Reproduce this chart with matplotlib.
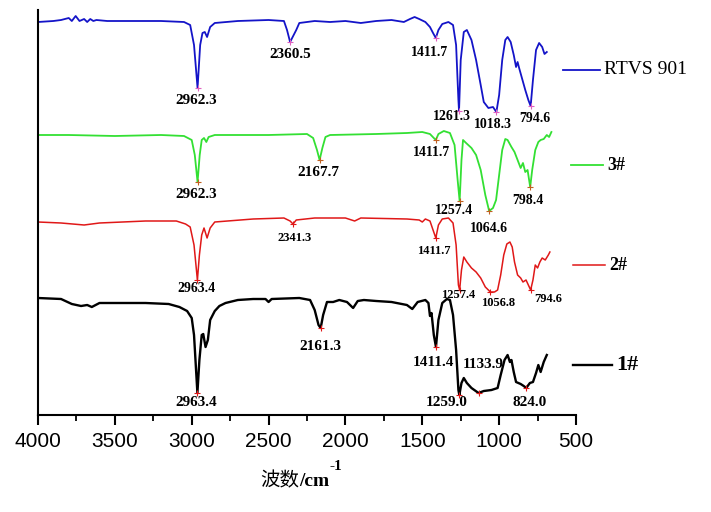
import matplotlib
matplotlib.use('Agg')
import matplotlib.pyplot as plt
from matplotlib.lines import Line2D

# 红外光谱 (纵坐标为各曲线的相对高度, 已按堆叠偏移读取)
w_rtvs = [4000, 3900, 3850, 3800, 3780, 3755, 3730, 3700, 3680, 3660, 3640, 3620, 3550, 3200, 3050,
          3010, 2985, 2962, 2945, 2930, 2915, 2900, 2880, 2850, 2700, 2500, 2400, 2380, 2360, 2340,
          2320, 2300, 2200, 2100, 2000, 1900, 1800, 1700, 1620, 1580, 1550, 1520, 1480, 1450, 1430,
          1412, 1395, 1370, 1330, 1300, 1280, 1265, 1261, 1250, 1230, 1210, 1180, 1150, 1120, 1100,
          1070, 1040, 1018, 1000, 980, 960, 945, 925, 905, 890, 880, 870, 830, 810, 795, 780, 760,
          740, 720, 705, 690]
y_rtvs = [393, 394, 395, 397, 394, 399, 394, 396, 393, 396, 394, 395, 394, 394, 393,
          390, 370, 327, 370, 382, 383, 378, 388, 392, 394, 395, 394, 385, 373, 379,
          385, 392, 394, 393, 394, 392, 394, 395, 393, 396, 398, 396, 393, 388, 382,
          377, 385, 391, 393, 390, 370, 315, 304, 355, 383, 385, 375, 355, 330, 313,
          307, 308, 303, 320, 355, 375, 378, 373, 360, 348, 353, 347, 325, 315, 309, 335, 365,
          372, 368, 361, 363]

w_3 = [4000, 3800, 3500, 3200, 3050, 3000, 2980, 2962, 2948, 2935, 2920, 2905, 2890, 2850, 2500,
       2250, 2210, 2185, 2168, 2150, 2130, 2100, 1800, 1600, 1500, 1450, 1425, 1412, 1395, 1360,
       1320, 1290, 1270, 1257, 1245, 1235, 1215, 1180, 1150, 1120, 1090, 1065, 1040, 1020, 1000,
       980, 960, 945, 920, 900, 880, 860, 845, 830, 815, 798, 785, 765, 745, 730, 710, 690, 675, 660]
y_3 = [280, 280, 279, 280, 279, 275, 260, 233, 260, 275, 277, 273, 278, 280, 280,
       281, 277, 265, 255, 267, 278, 280, 281, 282, 283, 281, 277, 275, 281, 284,
       282, 270, 235, 214, 255, 275, 272, 267, 260, 245, 220, 204, 207, 215, 240,
       265, 276, 275, 268, 263, 255, 247, 252, 243, 245, 228, 245, 265, 273, 275, 276, 280, 278, 283]

w_2 = [4000, 3850, 3700, 3600, 3300, 3100, 3040, 3010, 2985, 2963, 2950, 2935, 2920, 2900, 2880,
       2850, 2600, 2400, 2360, 2341, 2320, 2200, 2000, 1940, 1900, 1600, 1520, 1500, 1480, 1450,
       1430, 1412, 1395, 1370, 1330, 1300, 1280, 1265, 1257, 1245, 1230, 1210, 1180, 1150, 1120,
       1090, 1057, 1030, 1010, 990, 970, 950, 930, 915, 900, 880, 860, 845, 825, 810, 795, 780,
       765, 750, 735, 720, 700, 680, 670]
y_2 = [193, 192, 190, 192, 194, 194, 191, 188, 170, 135, 160, 180, 187, 177, 187,
       193, 196, 197, 194, 191, 195, 197, 197, 194, 197, 196, 195, 193, 196, 194,
       185, 177, 190, 196, 197, 192, 170, 130, 125, 145, 158, 153, 147, 143, 137,
       128, 123, 123, 125, 140, 160, 171, 173, 168, 153, 140, 137, 133, 135, 130, 125, 135,
       150, 147, 153, 157, 155, 160, 163]

w_1 = [4000, 3850, 3780, 3720, 3680, 3650, 3600, 3500, 3300, 3150, 3080, 3030, 3000, 2985, 2963,
       2950, 2935, 2925, 2910, 2895, 2880, 2850, 2820, 2780, 2700, 2600, 2520, 2500, 2480, 2300,
       2230, 2200, 2175, 2161, 2145, 2120, 2080, 2040, 1990, 1950, 1920, 1880, 1800, 1700, 1600,
       1565, 1530, 1480, 1460, 1450, 1440, 1425, 1411, 1395, 1370, 1340, 1320, 1300, 1280, 1265,
       1259, 1245, 1230, 1210, 1180, 1134, 1100, 1050, 1010, 990, 965, 945, 930, 920, 905, 890,
       860, 840, 824, 800, 780, 760, 745, 730, 710, 690]
y_1 = [117, 116, 111, 109, 110, 108, 112, 112, 112, 111, 108, 104, 97, 80, 22,
       55, 80, 81, 68, 75, 95, 104, 109, 112, 115, 116, 116, 113, 116, 117,
       115, 105, 90, 87, 100, 113, 113, 115, 113, 107, 114, 115, 114, 113, 110,
       106, 113, 115, 112, 99, 102, 80, 68, 95, 112, 116, 115, 100, 65, 25,
       20, 32, 37, 32, 27, 22, 24, 25, 27, 40, 55, 60, 53, 55, 43, 33,
       31, 29, 27, 32, 33, 42, 50, 43, 53, 60]

series = [
    (w_rtvs, y_rtvs, '#1414c8', 1.3, 'RTVS 901'),
    (w_3, y_3, '#33e033', 1.3, '3#'),
    (w_2, y_2, '#e01818', 1.1, '2#'),
    (w_1, y_1, 'black', 1.7, '1#'),
]

# 峰位标注: (文字, 位置x, 位置y, 字号, 标记颜色, 峰x, 峰y)
peaks = [
    ('2962.3', 2970, 315, 11, '#e060c0', 2962, 327),
    ('2360.5', 2360, 361, 11, '#e060c0', 2360, 373),
    ('1411.7', 1450, 363, 10, '#e060c0', 1412, 377),
    ('1261.3', 1307, 299, 10, '#e060c0', 1261, 304),
    ('1018.3', 1040, 290, 10, '#e060c0', 1018, 303),
    ('794.6', 767, 297, 10, '#e060c0', 795, 309),
    ('2962.3', 2970, 220, 11, '#c06020', 2962, 233),
    ('2167.7', 2178, 242, 11, '#c06020', 2168, 255),
    ('1411.7', 1437, 262, 10, '#c06020', 1412, 275),
    ('1257.4', 1293, 204, 10, '#c06020', 1257, 214),
    ('1064.6', 1066, 187, 10, '#c06020', 1065, 204),
    ('798.4', 812, 215, 10, '#c06020', 798, 228),
    ('2341.3', 2328, 177, 9, '#e01818', 2341, 191),
    ('2963.4', 2970, 127, 10, '#e01818', 2963, 135),
    ('1411.7', 1424, 164, 9, '#e01818', 1412, 177),
    ('1257.4', 1267, 120, 9, '#e01818', 1257, 125),
    ('1056.8', 1007, 112, 9, '#e01818', 1057, 123),
    ('794.6', 682, 116, 9, '#e01818', 795, 125),
    ('2963.4', 2970, 12, 11, '#e01818', 2963, 22),
    ('2161.3', 2165, 68, 11, '#e01818', 2161, 87),
    ('1411.4', 1430, 52, 11, '#e01818', 1411, 68),
    ('1133.9', 1105, 50, 11, '#e01818', 1134, 22),
    ('1259.0', 1339, 13, 11, '#e01818', 1259, 20),
    ('824.0', 799, 13, 11, '#e01818', 824, 27),
]

W, H = 711, 512
fig = plt.figure(figsize=(W / 100, H / 100), dpi=100)
ax = fig.add_axes([38 / W, (H - 415) / H, (576 - 38) / W, 405 / H])

for w, y, c, lw, name in series:
    ax.plot(w, y, color=c, lw=lw)

for txt, tx, ty, fs, mc, px, py in peaks:
    ax.plot(px, py, marker='+', color=mc, ms=4, mew=0.8)
    ax.text(tx, ty, txt, ha='center', va='center', fontsize=fs,
            family='Liberation Serif', fontweight='bold')

ax.set_xlim(4000, 500)
ax.set_ylim(0, 405)
ax.set_xticks([4000, 3500, 3000, 2500, 2000, 1500, 1000, 500])
ax.set_xticks([3750, 3250, 2750, 2250, 1750, 1250, 750], minor=True)
ax.set_yticks([])
ax.spines['top'].set_visible(False)
ax.spines['right'].set_visible(False)
ax.spines['left'].set_linewidth(1.5)
ax.spines['bottom'].set_linewidth(1.5)
ax.tick_params(axis='x', which='major', direction='out', length=7, width=1.5, labelsize=15, pad=5)
ax.tick_params(axis='x', which='minor', direction='out', length=4, width=1.3)
for lab in ax.get_xticklabels():
    lab.set_family('Liberation Sans')

# 横坐标标题
fig.text(280 / W, 1 - 481 / H, '波数', family='Noto Sans CJK SC', fontsize=14, ha='center', va='center')
fig.text(299 / W, 1 - 482 / H, '/cm', family='Liberation Serif', fontweight='bold', fontsize=14,
         ha='left', va='center')
fig.text(329 / W, 1 - 467 / H, '-1', family='Liberation Serif', fontweight='bold', fontsize=11,
         ha='left', va='center')

# 图例
legend_pos = [(563, 600, 70, 14, 'normal'), (571, 603, 165, 13, 'bold'),
              (573, 605, 265, 13, 'bold'), (573, 612, 365, 16, 'bold')]
for (w, y, c, lw, name), (x0, x1, ly, fs, fw) in zip(series, legend_pos):
    fig.add_artist(Line2D([x0 / W, x1 / W], [1 - ly / H, 1 - ly / H], color=c, lw=lw,
                          transform=fig.transFigure))
    fig.text((x1 + 4) / W, 1 - ly / H, name, family='Liberation Serif', fontweight=fw,
             fontsize=fs, ha='left', va='center')

fig.savefig('out.png', dpi=100)
